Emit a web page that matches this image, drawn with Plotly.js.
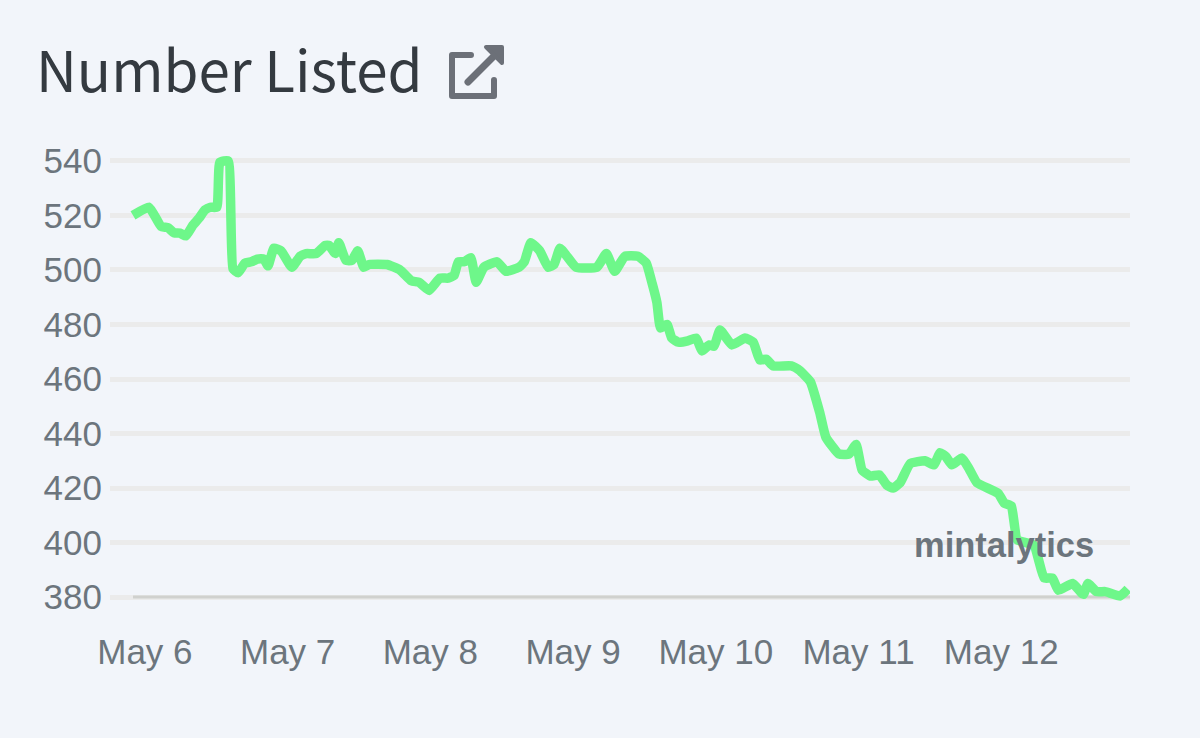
<!DOCTYPE html>
<html>
<head>
<meta charset="utf-8">
<script src="https://cdn.plot.ly/plotly-3.0.1.min.js"></script>
<style>
  html, body { margin: 0; padding: 0; background: #f2f5fa; }
  #chart { position: absolute; left: 0; top: 0; width: 1200px; height: 738px; }
  #chart .js-line { stroke-linejoin: round; }
  #share { position: absolute; left: 445px; top: 40px; }
</style>
</head>
<body>
<div id="chart"></div>
<svg id="share" width="64" height="64" viewBox="445 40 64 64" fill="none" stroke="#6c7078" stroke-width="6" stroke-linecap="round" stroke-linejoin="round">
  <path d="M471 55 H452 V96 H494 V80"/>
  <path d="M468 82 L495 55" stroke-width="7"/>
  <path d="M486 47 H502 V63 Z" fill="#6c7078" stroke-width="4"/>
</svg>
<script>
// hours after 22:00 on May 5
const hours = [0, 2.7, 4.7, 5.9, 6.9, 7.9, 8.9, 10.1, 11.1, 12.1, 13, 14.1, 14.6, 16, 16.8, 17.7,
  18.8, 19.9, 20.9, 22, 22.7, 23.7, 24.9, 26.7, 28.1, 29.1, 30.8, 32.3, 33, 34, 34.6, 35.8,
  36.8, 37.8, 38.8, 39.7, 42.7, 44.9, 46.8, 48.1, 49.8, 51.6, 53, 54, 54.7, 55.7, 56.8, 57.7,
  59, 61.2, 62.7, 64.9, 65.8, 66.9, 68.4, 69.8, 70.8, 71.8, 72.8, 74.5, 78, 79.6, 81, 82.7,
  84.9, 86.3, 87.3, 88.1, 88.7, 89.8, 90.6, 91.7, 93.3, 94.7, 95.7, 96.9, 97.7, 98.7, 100.7,
  102.9, 104.3, 105.4, 106.5, 107.6, 110.7, 112, 113.9, 115.5, 116.5, 118.7, 120.4, 121.6,
  122.6, 124, 125.5, 126.8, 127.8, 129, 130.7, 133.2, 134.7, 135.7, 136.7, 137.7, 139.4,
  140.6, 141.9, 145.5, 146.5, 147.7, 148.7, 151.5, 153.2, 154.6, 155.6, 158, 159.8, 160.6,
  162, 163.5, 166, 167.3];

const listed = [520, 523, 516, 515.5, 513.6, 513.5, 512.5, 516.5, 519, 522, 523, 523, 539.5, 540, 500.5, 499,
  502.5, 503, 504, 504, 501.5, 508, 507, 501, 505, 506, 506, 509, 509, 506, 510, 503.5,
  503.5, 507, 501, 502, 502, 500, 496, 495.5, 492.5, 497, 497, 498, 503, 503, 504.5, 495.5,
  501, 503, 499.5, 501, 503, 510, 507, 501, 502, 508, 505.5, 501, 501, 506, 499.5, 505,
  505, 502.5, 495, 488, 478.7, 480, 475, 473.5, 474, 475, 470.3, 472.5, 472, 478, 472.5,
  475, 473.5, 467, 467.3, 464.8, 464.8, 463.3, 459, 447.5, 438.7, 432.5, 432.5, 436,
  426.6, 424.4, 424.8, 421, 420, 422, 429, 430, 428.5, 433, 431.5, 428.5, 431,
  427, 422, 418, 414.5, 413.4, 401, 399, 387, 387, 382.5, 385, 381, 385,
  382, 382, 380.4, 383];

const yTicks = [380, 400, 420, 440, 460, 480, 500, 520, 540];
const xTicks = ["2022-05-06", "2022-05-07", "2022-05-08", "2022-05-09", "2022-05-10", "2022-05-11", "2022-05-12"];
const xLabels = ["May 6", "May 7", "May 8", "May 9", "May 10", "May 11", "May 12"];

const start = Date.UTC(2022, 4, 5, 22);
const toTime = h => new Date(start + h * 3600000).toISOString();
const times = hours.map(toTime);

const grey = "#6c757d";

Plotly.newPlot("chart", [{
  x: times,
  y: listed,
  type: "scatter",
  mode: "lines",
  line: { color: "#6ef78a", width: 9.5, shape: "spline", smoothing: 0.4 },
  hoverinfo: "x+y",
}], {
  width: 1200,
  height: 738,
  margin: { l: 110, r: 70, t: 150, b: 130, pad: 0 },
  paper_bgcolor: "#f2f5fa",
  plot_bgcolor: "#f2f5fa",
  showlegend: false,
  title: {
    text: "Number Listed",
    font: { family: "Noto Sans CJK JP", size: 56.5, color: "#343a40" },
    x: 36 / 1200,
    xanchor: "left",
    xref: "container",
    y: 1 - 72 / 738,
    yanchor: "middle",
    yref: "container",
  },
  xaxis: {
    type: "date",
    range: [toTime(-3.87), toTime(167.65)],
    tickmode: "array",
    tickvals: xTicks,
    ticktext: xLabels,
    showgrid: false,
    zeroline: false,
    showline: false,
    ticks: "outside",
    ticklen: 13,
    tickcolor: "rgba(0,0,0,0)",
    tickfont: { family: "Liberation Sans", size: 35, color: grey },
  },
  yaxis: {
    range: [376, 544],
    tickmode: "array",
    tickvals: yTicks,
    showgrid: true,
    gridcolor: "#ebebeb",
    gridwidth: 5,
    zeroline: false,
    showline: false,
    ticks: "outside",
    ticklen: 0,
    tickcolor: "rgba(0,0,0,0)",
    tickfont: { family: "Liberation Sans", size: 35, color: grey },
  },
  shapes: [{
    type: "line",
    layer: "between",
    x0: toTime(0),
    x1: toTime(167.65),
    y0: 380,
    y1: 380,
    line: { color: "#d0d1ce", width: 3 },
  }],
  annotations: [{
    text: "<b>mintalytics</b>",
    x: toTime(162),
    y: 399,
    xanchor: "right",
    yanchor: "middle",
    showarrow: false,
    font: { family: "Liberation Sans", size: 34.5, color: grey },
  }],
}, { displayModeBar: false, responsive: false });
</script>
</body>
</html>
